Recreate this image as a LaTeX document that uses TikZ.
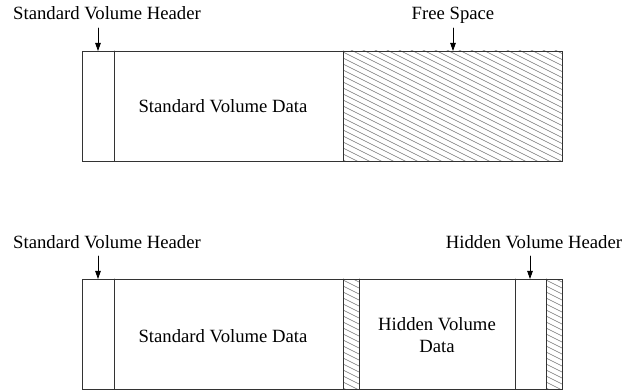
\documentclass[tikz,border=0pt]{standalone}
\usepackage{fontspec}
\setmainfont{Liberation Serif}
\usetikzlibrary{arrows.meta}
\tikzset{
  cell/.style={draw=black!80, line width=0.9pt},
  hatchline/.style={draw=black!55, line width=0.6pt},
  pointer/.style={line width=0.8pt, -{Triangle[length=8pt,width=5.5pt]}},
  label/.style={font=\fontsize{18.7}{22}\selectfont, inner sep=0pt}
}
\begin{document}
\begin{tikzpicture}[x=1pt, y=-1pt, line cap=round]
  \useasboundingbox (0,0) rectangle (624,390);
  % Hatched regions.
  \foreach \xa/\xb/\ya/\yb in {343/562/51/161, 343/359/279/389, 546/562/279/389} {
    \begin{scope}
      \clip (\xa,\ya) rectangle (\xb,\yb);
      \foreach \s in {-120,-114,...,114}
        \draw[hatchline] (\xa-2,\ya+\s) -- ++(232,116);
    \end{scope}
  }
  % Top volume.
  \draw[cell] (82,51) rectangle (562,161);
  \draw[cell] (114,51) -- (114,161);
  \draw[cell] (343,51) -- (343,161);
  \node[label] (stdDataA) at (223,106) {Standard Volume Data};
  \node[label, anchor=base] (stdHdrA) at (107,20) {Standard Volume Header};
  \node[label, anchor=base] (freeLbl) at (453,20) {Free Space};
  \coordinate (stdTailA) at (98,28);
  \coordinate (stdTipA) at (98,51);
  \coordinate (freeTail) at (453,28);
  \coordinate (freeTip) at (453,51);
  \draw[pointer] (stdTailA) -- (stdTipA);
  \draw[pointer] (freeTail) -- (freeTip);
  % Bottom volume.
  \draw[cell] (82,279) rectangle (562,389);
  \draw[cell] (114,279) -- (114,389);
  \draw[cell] (343,279) -- (343,389);
  \draw[cell] (359,279) -- (359,389);
  \draw[cell] (515,279) -- (515,389);
  \draw[cell] (546,279) -- (546,389);
  \node[label] (stdDataB) at (223,336) {Standard Volume Data};
  \node[label, align=center] (hidData) at (437,335) {Hidden Volume\\Data};
  \node[label, anchor=base] (stdHdrB) at (107,248) {Standard Volume Header};
  \node[label, anchor=base] (hidHdr) at (534,248) {Hidden Volume Header};
  \coordinate (stdTailB) at (98,256);
  \coordinate (stdTipB) at (98,279);
  \coordinate (hidTail) at (530,256);
  \coordinate (hidTip) at (530,279);
  \draw[pointer] (stdTailB) -- (stdTipB);
  \draw[pointer] (hidTail) -- (hidTip);
\end{tikzpicture}
\end{document}
